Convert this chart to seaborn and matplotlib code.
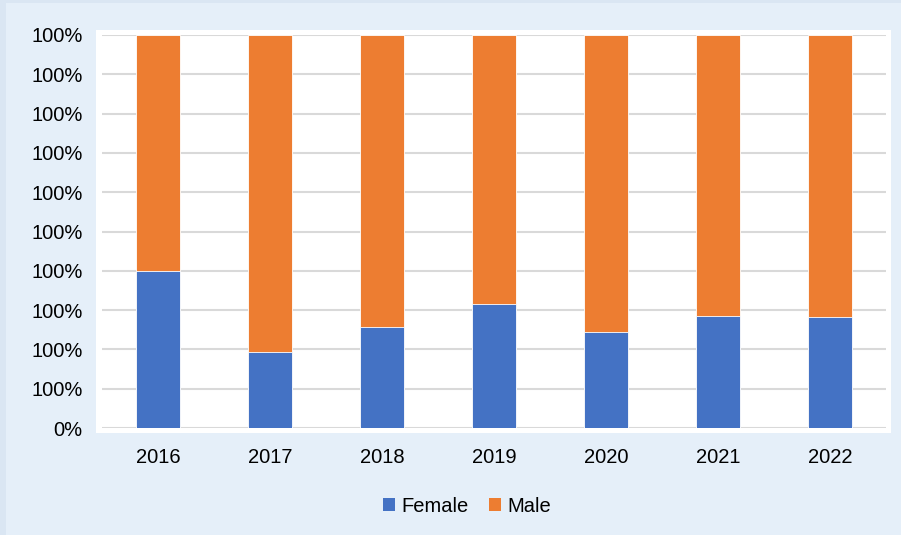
import pandas as pd
import numpy as np
import matplotlib.pyplot as plt
import seaborn as sns
from matplotlib.patches import Rectangle, Patch

years = ['2016', '2017', '2018', '2019', '2020', '2021', '2022']
female = [0.400, 0.193, 0.257, 0.316, 0.244, 0.285, 0.282]
male = [0.600, 0.807, 0.743, 0.684, 0.756, 0.715, 0.718]
# tick labels as printed on the original (rounded to 100%)
tick_vals = [0.0, 0.1, 0.2, 0.3, 0.4, 0.5, 0.6, 0.7, 0.8, 0.9, 1.0]
tick_labels = ['0%'] + ['100%'] * 10

df = pd.DataFrame({'Year': years, 'Female': female, 'Male': male})
df['Total'] = df['Female'] + df['Male']

sns.set_theme(style="white")
plt.rcParams['font.family'] = ['Liberation Sans', 'DejaVu Sans']
plt.rcParams['text.color'] = 'black'

blue = '#4472C4'
orange = '#ED7D31'
bg = '#E5EFF9'

fig = plt.figure(figsize=(9.01, 5.35), dpi=100)
fig.patch.set_facecolor('#DAE6F3')
W, H = 901, 535
# light panel and white plot area
fig.patches.append(Rectangle((6 / W, 0), 1, 1 - 3 / H, transform=fig.transFigure,
                             facecolor=bg, edgecolor='none', zorder=-2))
fig.patches.append(Rectangle((96 / W, 1 - 433 / H), (891 - 96) / W, (433 - 30) / H,
                             transform=fig.transFigure, facecolor='white',
                             edgecolor='none', zorder=-1))

ax = fig.add_axes([102 / W, 1 - 428 / H, (886 - 102) / W, (428 - 35) / H])
ax.set_facecolor('none')

sns.barplot(data=df, x='Year', y='Total', color=orange, width=0.4,
            edgecolor='white', linewidth=0.6, saturation=1, ax=ax, zorder=3)
sns.barplot(data=df, x='Year', y='Female', color=blue, width=0.4,
            edgecolor='white', linewidth=0.6, saturation=1, ax=ax, zorder=4)

ax.set_xlim(-0.5, 6.5)
ax.set_ylim(0, 1.0)
ax.set_yticks(tick_vals)
ax.set_yticklabels(tick_labels)
ax.yaxis.grid(True, color='#D9D9D9', linewidth=1.5, zorder=0)
ax.set_axisbelow(True)
for s in ax.spines.values():
    s.set_visible(False)
ax.tick_params(axis='y', length=0, pad=14, labelsize=14.5, labelcolor='black')
ax.tick_params(axis='x', length=0, pad=14.5, labelsize=14.5, labelcolor='black')
ax.set_xlabel('')
ax.set_ylabel('')

handles = [Patch(facecolor=blue, edgecolor='none', label='Female'),
           Patch(facecolor=orange, edgecolor='none', label='Male')]
fig.legend(handles=handles, loc='center', bbox_to_anchor=(467 / W, 1 - 506 / H),
           ncol=2, frameon=False, fontsize=14.5, handlelength=0.6, handleheight=0.6,
           handletextpad=0.3, columnspacing=1.0, labelcolor='black')

fig.savefig('out.png', dpi=100, facecolor=fig.get_facecolor())
